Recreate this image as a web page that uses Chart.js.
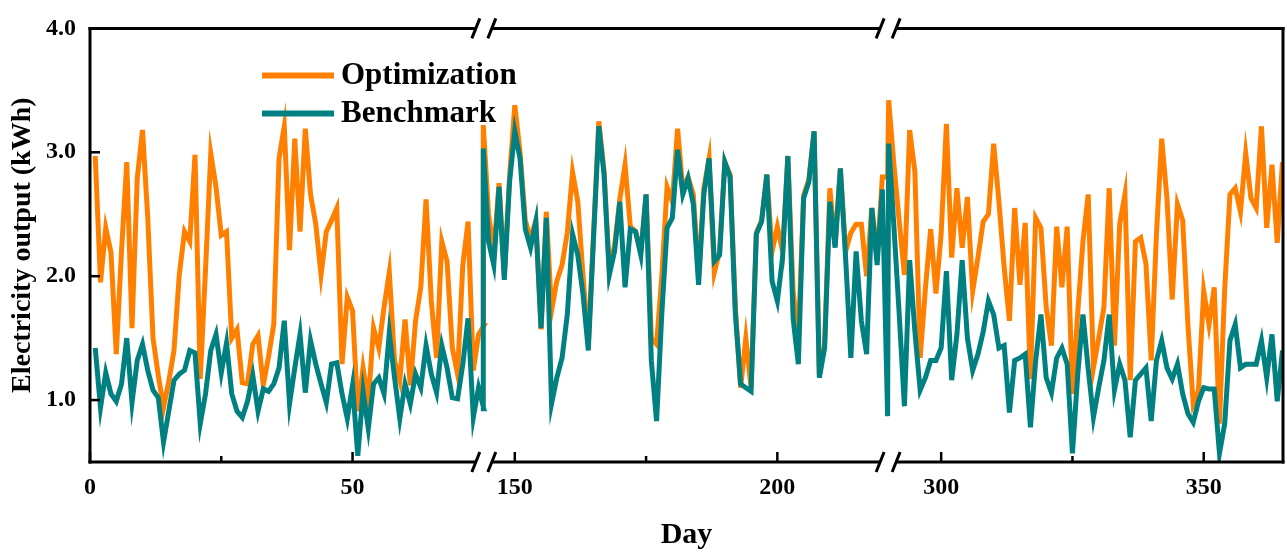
<!DOCTYPE html>
<html>
<head>
<meta charset="utf-8">
<title>Electricity output</title>
<script src="https://cdn.jsdelivr.net/npm/chart.js@4.4.1/dist/chart.umd.min.js"></script>
<style>
  html, body { margin: 0; padding: 0; background: #fff; }
  #wrap { position: relative; width: 1287px; height: 554px; }
</style>
</head>
<body>
<div id="wrap"><canvas id="chart"></canvas></div>
<script>
// First day of each visible stretch (the axis is broken between them)
const segStarts = [1, 144, 290];

// Optimization, days 1-75
const optSeg1 = [2.97, 1.95, 2.39, 2.19, 1.37, 2.20, 2.92, 1.58, 2.79, 3.18,
  2.47, 1.50, 1.20, 0.94, 1.15, 1.40, 2.01, 2.36, 2.28, 2.98,
  1.17, 2.05, 2.99, 2.72, 2.33, 2.36, 1.50, 1.57, 1.14, 1.13,
  1.45, 1.52, 1.12, 1.35, 1.61, 2.95, 3.21, 2.21, 3.11, 2.36,
  3.19, 2.66, 2.42, 2.01, 2.36, 2.45, 2.55, 1.29, 1.83, 1.72,
  0.91, 1.26, 0.99, 1.58, 1.42, 1.75, 2.03, 1.32, 1.16, 1.65,
  1.12, 1.64, 1.91, 2.62, 1.80, 1.34, 2.28, 2.12, 1.42, 1.21,
  2.09, 2.44, 1.24, 1.53, 1.60];
// Benchmark, days 1-75
const benSeg1 = [1.42, 0.94, 1.22, 1.05, 0.99, 1.13, 1.50, 0.98, 1.32, 1.45,
  1.24, 1.08, 1.02, 0.66, 0.91, 1.16, 1.21, 1.24, 1.40, 1.38,
  0.81, 1.05, 1.40, 1.53, 1.22, 1.46, 1.05, 0.91, 0.86, 0.99,
  1.20, 0.91, 1.09, 1.07, 1.13, 1.26, 1.64, 0.97, 1.26, 1.53,
  1.06, 1.48, 1.29, 1.13, 0.98, 1.29, 1.30, 1.05, 0.85, 1.12,
  0.55, 1.07, 0.77, 1.13, 1.18, 1.05, 1.54, 1.18, 0.85, 1.13,
  0.97, 1.21, 1.10, 1.44, 1.21, 1.06, 1.44, 1.26, 1.02, 1.01,
  1.29, 1.66, 0.86, 1.10, 0.93];

// days 144-221
const optSeg2 = [3.22, 2.50, 2.20, 2.75, 2.00, 2.80, 3.38, 3.00, 2.45, 2.30,
  2.45, 1.57, 2.52, 1.72, 1.96, 2.09, 2.35, 2.84, 2.60, 2.00,
  1.45, 2.35, 3.25, 2.85, 2.05, 2.25, 2.62, 2.90, 2.40, 2.36,
  2.20, 2.66, 1.50, 1.45, 2.00, 2.72, 2.60, 3.19, 2.70, 2.80,
  2.66, 2.00, 2.71, 2.95, 2.03, 2.20, 2.92, 2.82, 1.75, 1.10,
  1.50, 1.10, 2.35, 2.45, 2.82, 2.20, 2.40, 2.20, 2.97, 1.88,
  1.50, 2.65, 2.78, 3.17, 1.20, 1.45, 2.71, 2.25, 2.87, 2.20,
  2.35, 2.42, 2.42, 2.00, 2.55, 2.15, 2.80, 2.80];
const benSeg2 = [3.03, 2.28, 2.09, 2.72, 1.97, 2.76, 3.17, 2.95, 2.38, 2.23,
  2.44, 1.58, 2.47, 0.97, 1.18, 1.34, 1.69, 2.34, 2.17, 1.85,
  1.40, 2.31, 3.21, 2.82, 2.01, 2.20, 2.60, 1.91, 2.38, 2.36,
  2.17, 2.66, 1.32, 0.83, 1.70, 2.39, 2.47, 3.02, 2.66, 2.79,
  2.58, 1.93, 2.66, 2.95, 2.12, 2.17, 2.92, 2.80, 1.70, 1.13,
  1.10, 1.07, 2.34, 2.44, 2.82, 1.96, 1.80, 2.15, 2.97, 1.66,
  1.29, 2.63, 2.76, 3.17, 1.18, 1.42, 2.60, 2.23, 2.87, 2.15,
  1.34, 2.20, 1.64, 1.37, 2.55, 2.09, 2.70, 0.87];

// days 290-365
const optSeg3 = [3.42, 2.90, 2.45, 2.01, 3.18, 2.84, 1.34, 1.90, 2.38, 1.86,
  2.34, 3.23, 2.15, 2.71, 2.23, 2.64, 1.88, 2.15, 2.44, 2.50,
  3.07, 2.60, 2.07, 1.64, 2.55, 1.93, 2.43, 1.17, 2.47, 2.39,
  1.75, 1.44, 2.40, 1.91, 2.40, 1.05, 1.70, 2.28, 2.66, 1.26,
  1.50, 1.75, 2.71, 1.44, 2.42, 2.66, 1.16, 2.28, 2.31, 2.10,
  1.32, 2.34, 3.11, 2.63, 1.81, 2.58, 2.45, 1.60, 0.97, 1.08,
  1.88, 1.61, 1.91, 0.81, 1.90, 2.66, 2.71, 2.52, 2.99, 2.63,
  2.55, 3.21, 2.39, 2.90, 2.27, 2.92];
const benSeg3 = [3.07, 2.40, 1.70, 0.95, 2.13, 1.55, 1.08, 1.18, 1.32, 1.32,
  1.42, 2.04, 1.16, 1.53, 2.13, 1.50, 1.24, 1.37, 1.55, 1.80,
  1.69, 1.42, 1.44, 0.90, 1.32, 1.34, 1.37, 0.78, 1.32, 1.69,
  1.18, 1.06, 1.34, 1.42, 1.29, 0.57, 1.20, 1.69, 1.25, 0.86,
  1.10, 1.32, 1.69, 1.08, 1.29, 1.16, 0.70, 1.16, 1.21, 1.26,
  0.83, 1.32, 1.48, 1.26, 1.17, 1.29, 1.05, 0.89, 0.82, 0.99,
  1.10, 1.09, 1.09, 0.57, 0.81, 1.48, 1.61, 1.26, 1.29, 1.29,
  1.29, 1.48, 1.18, 1.53, 0.99, 1.40];

// Axis ticks (days) and their labels; '' = minor tick
const tickDays   = [0, 25, 50, 150, 175, 200, 300, 325, 350];
const tickLabels = ['0', '', '50', '150', '', '200', '300', '', '350'];
const yTicks = [1, 2, 3, 4];

const ORANGE = '#FF8000';
const TEAL = '#008080';
const FONT = "'Liberation Serif', 'Times New Roman', serif";

// Broken axis: days hidden inside a break collapse onto the break position
function dayToAxis(d) {
  if (d <= 75) return d;
  if (d < 144) return 75;
  if (d <= 221) return d - 69.1;
  if (d < 290) return 152.1;
  return d - 137.9;
}
const breakAt = [75, 152];

function toPoints(segs) {
  const pts = [];
  segs.forEach((vals, s) => {
    vals.forEach((v, i) => pts.push({ x: dayToAxis(segStarts[s] + i), y: v }));
  });
  return pts;
}

// Frame with break marks and inward ticks
const framePlugin = {
  id: 'frame',
  afterDatasetsDraw(chart) {
    const { ctx, chartArea: a, scales: { x, y } } = chart;
    const gaps = breakAt.map(b => x.getPixelForValue(b));
    ctx.save();
    ctx.strokeStyle = '#000';
    ctx.lineWidth = 3;
    ctx.lineCap = 'butt';

    const seg = (x1, y1, x2, y2) => { ctx.beginPath(); ctx.moveTo(x1, y1); ctx.lineTo(x2, y2); ctx.stroke(); };

    seg(a.left, a.top - 1.5, a.left, a.bottom + 1.5);
    seg(a.right, a.top - 1.5, a.right, a.bottom + 1.5);
    [a.top, a.bottom].forEach(yy => {
      let start = a.left - 1.5;
      gaps.forEach(g => {
        seg(start, yy, g - 8, yy);
        seg(g - 12, yy + 10, g - 4, yy - 10);
        seg(g + 4, yy + 10, g + 12, yy - 10);
        start = g + 8;
      });
      seg(start, yy, a.right + 1.5, yy);
    });

    ctx.lineWidth = 2.5;
    tickDays.forEach((d, i) => {
      const px = x.getPixelForValue(dayToAxis(d));
      const len = tickLabels[i] ? 10 : 6;
      seg(px, a.bottom, px, a.bottom - len);
    });
    yTicks.forEach(v => {
      const py = y.getPixelForValue(v);
      seg(a.left, py, a.left + 10, py);
    });
    ctx.restore();
  }
};

// Legend inside the plot, line sample + bold label
const legendOrder = ['Optimization', 'Benchmark'];
const legendPlugin = {
  id: 'innerLegend',
  afterDraw(chart) {
    const { ctx, chartArea: a } = chart;
    ctx.save();
    ctx.font = `bold 31px ${FONT}`;
    ctx.textBaseline = 'middle';
    ctx.fillStyle = '#000';
    legendOrder.forEach((name, i) => {
      const ds = chart.data.datasets.find(d => d.label === name);
      const yy = a.top + 47 + i * 38;
      ctx.strokeStyle = ds.borderColor;
      ctx.lineWidth = 6;
      ctx.beginPath();
      ctx.moveTo(a.left + 172, yy);
      ctx.lineTo(a.left + 244, yy);
      ctx.stroke();
      ctx.fillText(name, a.left + 251, yy + 1);
    });
    ctx.restore();
  }
};

new Chart(document.getElementById('chart'), {
  type: 'line',
  data: {
    datasets: [
      {
        label: 'Optimization',
        data: toPoints([optSeg1, optSeg2, optSeg3]),
        borderColor: ORANGE,
        borderWidth: 5,
        order: 1,
      },
      {
        label: 'Benchmark',
        data: toPoints([benSeg1, benSeg2, benSeg3]),
        borderColor: TEAL,
        borderWidth: 5,
        order: 0,
      },
    ],
  },
  options: {
    responsive: true,
    maintainAspectRatio: false,
    animation: false,
    layout: { padding: { top: 25, right: 4, left: 0, bottom: 0 } },
    elements: {
      point: { radius: 0, hoverRadius: 0 },
      line: { tension: 0, borderJoinStyle: 'miter', borderCapStyle: 'butt', fill: false },
    },
    plugins: {
      legend: { display: false },
      tooltip: { enabled: false },
    },
    scales: {
      x: {
        type: 'linear',
        min: 0,
        max: 227.2,
        grid: { display: false, drawTicks: false },
        border: { display: false },
        afterBuildTicks: s => { s.ticks = tickDays.map(d => ({ value: dayToAxis(d) })); },
        afterFit: s => { s.height = 92; },
        ticks: {
          autoSkip: false,
          maxRotation: 0,
          padding: 11,
          color: '#000',
          font: { family: FONT, weight: 'bold', size: 24 },
          callback: (v, i) => tickLabels[i],
        },
        title: {
          display: true,
          text: 'Day',
          color: '#000',
          font: { family: FONT, weight: 'bold', size: 30 },
          padding: { top: 0, bottom: 1 },
        },
      },
      y: {
        min: 0.5,
        max: 4.0,
        grid: { display: false, drawTicks: false },
        border: { display: false },
        afterBuildTicks: s => { s.ticks = yTicks.map(v => ({ value: v })); },
        afterFit: s => { s.width = 90; },
        ticks: {
          padding: 14,
          color: '#000',
          font: { family: FONT, weight: 'bold', size: 24 },
          callback: v => Number(v).toFixed(1),
        },
        title: {
          display: true,
          text: 'Electricity output (kWh)',
          color: '#000',
          font: { family: FONT, weight: 'bold', size: 28 },
          padding: { top: 6, bottom: 0 },
        },
      },
    },
  },
  plugins: [framePlugin, legendPlugin],
});
</script>
</body>
</html>
